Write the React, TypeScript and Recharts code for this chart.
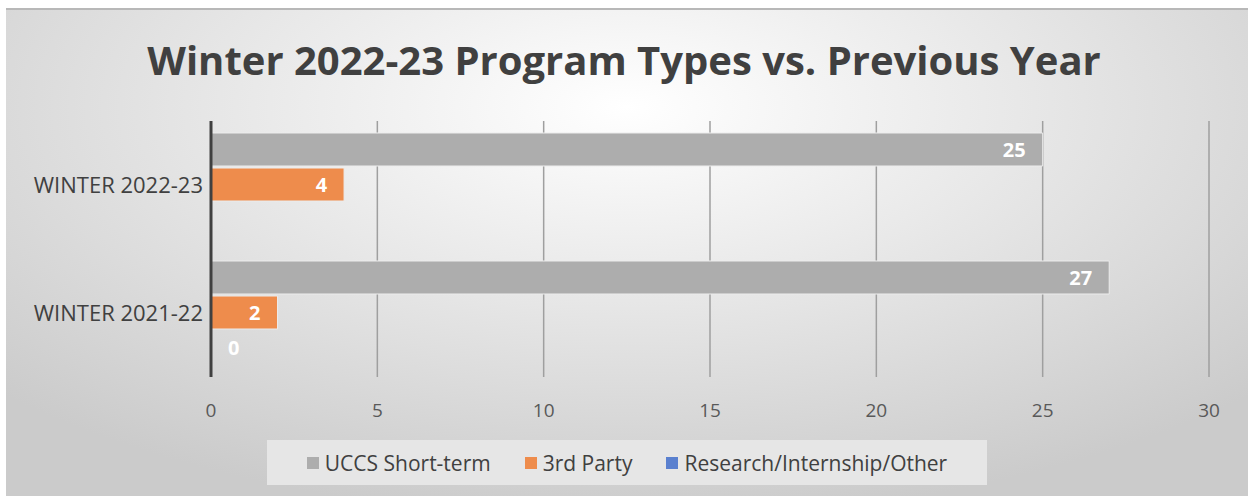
import { Bar, BarChart, CartesianGrid, LabelList, Legend, Rectangle, XAxis, YAxis } from "recharts";

const terms = ["WINTER 2022-23", "WINTER 2021-22"];
const uccsShortTerm = [25, 27];
const thirdParty = [4, 2];
const researchOther: (number | null)[] = [null, 0];
const xTicks = [0, 5, 10, 15, 20, 25, 30];

const SERIES = [
  { key: "uccs", name: "UCCS Short-term", color: "#adadad" },
  { key: "third", name: "3rd Party", color: "#ee8c4c" },
  { key: "research", name: "Research/Internship/Other", color: "#5a80cf" },
];

const FONT = "'Open Sans', 'Noto Sans', sans-serif";

const data = terms.map((term, i) => ({
  term,
  uccs: uccsShortTerm[i],
  third: thirdParty[i],
  research: researchOther[i],
}));

// zero values still need a rect so the "0" label gets drawn (like Excel does)
const keepZero = (value: any) => (Number(Array.isArray(value) ? value[1] : value) === 0 ? 1 : 0);

function BarShape(props: any) {
  const v = Array.isArray(props.value) ? props.value[1] : props.value;
  if (!v) return null;
  return <Rectangle {...props} />;
}

function BarValue(props: any) {
  const { x, y, width, height, value } = props;
  const v = Array.isArray(value) ? value[1] : value;
  if (v === null || v === undefined) return null;
  const zero = Number(v) === 0;
  return (
    <text
      x={zero ? Number(x) + 17 : Number(x) + Number(width) - 17}
      y={Number(y) + Number(height) / 2}
      textAnchor={zero ? "start" : "end"}
      dominantBaseline="central"
      fill="#ffffff"
      fontSize={20}
      fontWeight={700}
      fontFamily={FONT}
    >
      {v}
    </text>
  );
}

function LegendBox() {
  return (
    <div
      style={{
        display: "flex",
        alignItems: "center",
        justifyContent: "center",
        gap: 34,
        height: 45,
        background: "#e6e6e6",
        fontFamily: FONT,
        fontSize: 21,
        color: "#404040",
      }}
    >
      {SERIES.map((s) => (
        <div key={s.key} style={{ display: "flex", alignItems: "center", gap: 6 }}>
          <span style={{ width: 12, height: 12, background: s.color, display: "inline-block" }} />
          <span>{s.name}</span>
        </div>
      ))}
    </div>
  );
}

export default function App() {
  return (
    <div style={{ position: "absolute", left: 0, top: 0, width: 1248, height: 496, background: "#ffffff" }}>
      <div
        style={{
          position: "absolute",
          left: 6,
          top: 8,
          width: 1242,
          height: 488,
          borderTop: "2px solid #b8b8b8",
          boxSizing: "border-box",
          background:
            "radial-gradient(ellipse 70% 85% at 50% 20%, #ffffff 0%, #e8e8e8 45%, #cbcbcb 100%)",
        }}
      />
      <div
        style={{
          position: "absolute",
          left: 0,
          top: 32,
          width: 1248,
          textAlign: "center",
          fontFamily: FONT,
          fontWeight: 700,
          fontSize: 40,
          color: "#404040",
        }}
      >
        Winter 2022-23 Program Types vs. Previous Year
      </div>
      <div style={{ position: "absolute", left: 0, top: 0 }}>
        <BarChart
          width={1248}
          height={496}
          data={data}
          layout="vertical"
          margin={{ top: 121, right: 39, left: 0, bottom: 0 }}
          barCategoryGap={12}
          barGap={2}
        >
          <CartesianGrid vertical horizontal={false} stroke="#9f9f9f" strokeWidth={1.5} />
          <XAxis
            type="number"
            domain={[0, 30]}
            ticks={xTicks}
            height={119}
            axisLine={false}
            tickLine={false}
            tickMargin={21}
            tick={{ fill: "#595959", fontSize: 19, fontFamily: FONT }}
          />
          <YAxis
            type="category"
            dataKey="term"
            width={211}
            axisLine={{ stroke: "#404040", strokeWidth: 3 }}
            tickLine={false}
            tick={{ fill: "#404040", fontSize: 22, fontFamily: FONT }}
          />
          <Legend
            verticalAlign="middle"
            align="center"
            content={() => <LegendBox />}
            wrapperStyle={{ left: 267, top: 440, width: 720, height: 45 }}
          />
          {SERIES.map((s) => (
            <Bar
              key={s.key}
              dataKey={s.key}
              name={s.name}
              fill={s.color}
              stroke="#ececec"
              strokeWidth={1}
              minPointSize={keepZero}
              shape={BarShape}
              isAnimationActive={false}
            >
              <LabelList dataKey={s.key} content={BarValue} />
            </Bar>
          ))}
        </BarChart>
      </div>
    </div>
  );
}
